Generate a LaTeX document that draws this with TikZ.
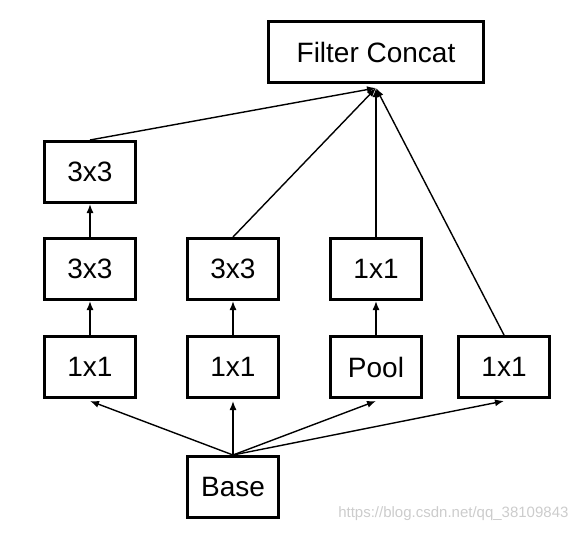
\documentclass[tikz,border=0pt]{standalone}
\usepackage{fontspec}
\setmainfont{Liberation Sans}
\usetikzlibrary{positioning,arrows.meta}

\begin{document}
\begin{tikzpicture}[x=1pt,y=-1pt,
    layer/.style={draw,line width=3pt,minimum width=91pt,minimum height=61pt,
      inner sep=0pt,font=\fontsize{28}{32}\selectfont},
    flow/.style={line width=1.4pt,-{Latex[length=9pt,width=7pt]}}]
    \useasboundingbox (0,0) rectangle (580,536);
    % output
    \node[layer,minimum width=215pt] (concat) at (376,52) {Filter Concat};
    \coordinate (cin) at ([yshift=-4pt]concat.south);
    % branch 1
    \node[layer] (br1a) at (90,367) {1x1};
    \node[layer] (br1b) at (90,269) {3x3};
    \node[layer] (br1c) at (90,172) {3x3};
    % branch 2
    \node[layer] (br2a) at (233,367) {1x1};
    \node[layer] (br2b) at (233,269) {3x3};
    % branch 3
    \node[layer] (br3a) at (376,367) {Pool};
    \node[layer] (br3b) at (376,269) {1x1};
    % branch 4
    \node[layer] (br4a) at (504,367) {1x1};
    % input
    \node[layer] (base) at (233,487) {Base};

    \foreach \b in {br1a,br2a,br3a,br4a}
      \draw[flow] (base.north) -- ([yshift=-2pt]\b.south);
    \draw[flow] (br1a) -- (br1b);
    \draw[flow] (br1b) -- (br1c);
    \draw[flow] (br2a) -- (br2b);
    \draw[flow] (br3a) -- (br3b);
    \foreach \b in {br1c,br2b,br3b,br4a}
      \draw[flow] (\b.north) -- (cin);

    \node[text=black!20,font=\fontsize{15}{18}\selectfont,anchor=east] (mark) at (572,514)
      {https://blog.csdn.net/qq\_38109843};
\end{tikzpicture}
\end{document}
